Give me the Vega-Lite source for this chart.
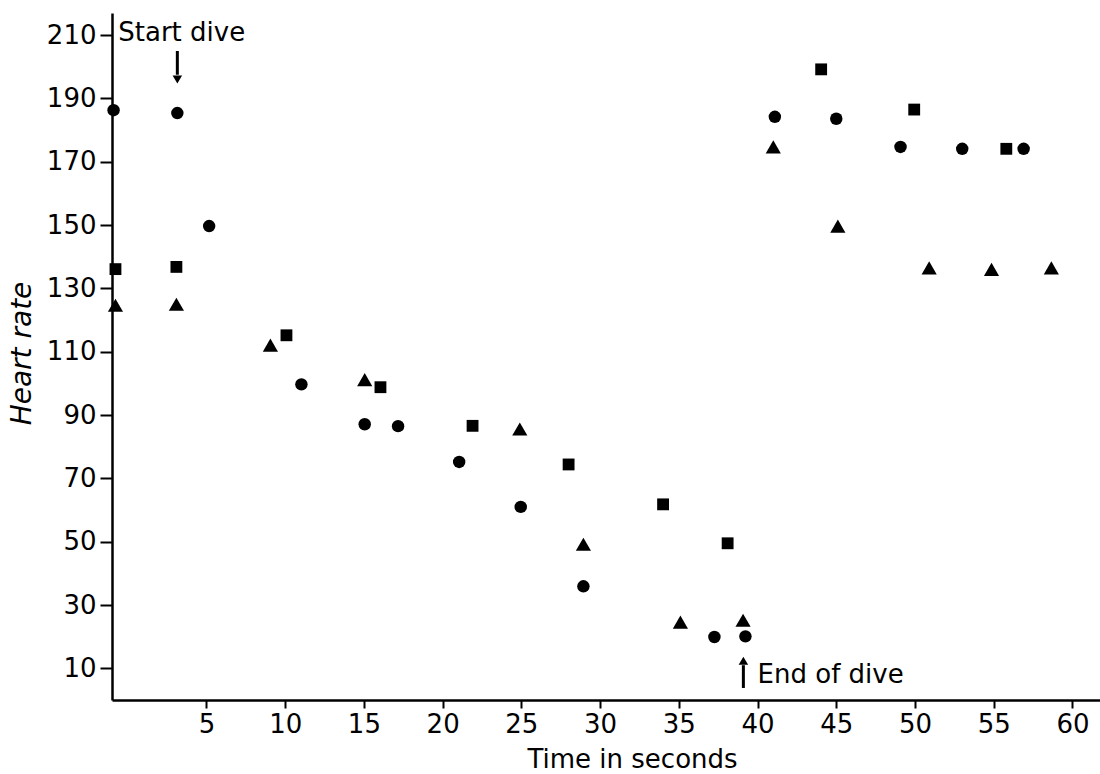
{
  "$schema": "https://vega.github.io/schema/vega-lite/v6.json",
  "autosize": "none",
  "width": 988,
  "height": 687,
  "padding": {"left": 112, "top": 13, "right": 0, "bottom": 74},
  "background": "white",
  "config": {
    "font": "DejaVu Sans",
    "view": {"stroke": null},
    "axis": {
      "grid": false,
      "domainColor": "black",
      "domainWidth": 2.5,
      "tickColor": "black",
      "tickWidth": 2,
      "labelColor": "black",
      "titleColor": "black",
      "labelFontSize": 26,
      "labelFont": "DejaVu Sans",
      "titleFont": "DejaVu Sans",
      "titleFontWeight": "normal"
    }
  },
  "datasets": {
    "pts": [
      {"t": -0.9, "hr": 186.3, "series": "circle"},
      {"t": 3.15, "hr": 185.4, "series": "circle"},
      {"t": 5.17, "hr": 149.7, "series": "circle"},
      {"t": 11.03, "hr": 99.7, "series": "circle"},
      {"t": 15.05, "hr": 87.1, "series": "circle"},
      {"t": 17.17, "hr": 86.5, "series": "circle"},
      {"t": 21.05, "hr": 75.2, "series": "circle"},
      {"t": 24.96, "hr": 61.0, "series": "circle"},
      {"t": 28.94, "hr": 35.9, "series": "circle"},
      {"t": 37.26, "hr": 19.9, "series": "circle"},
      {"t": 39.23, "hr": 20.1, "series": "circle"},
      {"t": 41.1, "hr": 184.2, "series": "circle"},
      {"t": 45.0, "hr": 183.6, "series": "circle"},
      {"t": 49.08, "hr": 174.7, "series": "circle"},
      {"t": 53.0, "hr": 174.1, "series": "circle"},
      {"t": 56.9, "hr": 174.1, "series": "circle"},
      {"t": -0.78, "hr": 136.1, "series": "square"},
      {"t": 3.09, "hr": 136.8, "series": "square"},
      {"t": 10.08, "hr": 115.2, "series": "square"},
      {"t": 16.05, "hr": 98.8, "series": "square"},
      {"t": 21.9, "hr": 86.6, "series": "square"},
      {"t": 28.0, "hr": 74.4, "series": "square"},
      {"t": 34.0, "hr": 61.8, "series": "square"},
      {"t": 38.1, "hr": 49.5, "series": "square"},
      {"t": 44.04, "hr": 199.2, "series": "square"},
      {"t": 49.95, "hr": 186.5, "series": "square"},
      {"t": 55.8, "hr": 174.1, "series": "square"},
      {"t": -0.78, "hr": 124.7, "series": "triangle"},
      {"t": 3.09, "hr": 125.0, "series": "triangle"},
      {"t": 9.06, "hr": 112.1, "series": "triangle"},
      {"t": 15.05, "hr": 101.2, "series": "triangle"},
      {"t": 24.9, "hr": 85.6, "series": "triangle"},
      {"t": 28.94, "hr": 49.2, "series": "triangle"},
      {"t": 35.1, "hr": 24.6, "series": "triangle"},
      {"t": 39.08, "hr": 25.2, "series": "triangle"},
      {"t": 41.0, "hr": 174.7, "series": "triangle"},
      {"t": 45.1, "hr": 149.7, "series": "triangle"},
      {"t": 50.9, "hr": 136.5, "series": "triangle"},
      {"t": 54.86, "hr": 136.0, "series": "triangle"},
      {"t": 58.66, "hr": 136.5, "series": "triangle"}
    ],
    "notes": [
      {"t": -0.6, "hr": 210.6, "label": "Start dive"},
      {"t": 40.0, "hr": 7.8, "label": "End of dive"}
    ],
    "arrows": [
      {"t": 3.15, "hr": 205.0, "hr2": 197.5, "headY": 196.0, "head": "triangle-down"},
      {"t": 39.1, "hr": 3.8, "hr2": 11.0, "headY": 12.4, "head": "triangle-up"}
    ]
  },
  "encoding": {
    "x": {
      "field": "t",
      "type": "quantitative",
      "scale": {"domain": [-1, 61.75], "nice": false, "zero": false},
      "axis": {
        "values": [5, 10, 15, 20, 25, 30, 35, 40, 45, 50, 55, 60],
        "tickSize": 8,
        "labelPadding": 3,
        "title": "Time in seconds",
        "titleFontSize": 26,
        "titleX": 520,
        "titleY": 67,
        "titleBaseline": "alphabetic",
        "titleAlign": "center"
      }
    },
    "y": {
      "field": "hr",
      "type": "quantitative",
      "scale": {"domain": [0, 217], "nice": false},
      "axis": {
        "values": [10, 30, 50, 70, 90, 110, 130, 150, 170, 190, 210],
        "tickSize": 12,
        "labelPadding": 4,
        "title": "Heart rate",
        "titleFontSize": 28,
        "titleFontStyle": "italic",
        "titleAngle": 270,
        "titleX": -90,
        "titleY": 340,
        "titleBaseline": "middle",
        "titleAlign": "center"
      }
    }
  },
  "layer": [
    {
      "data": {"name": "pts"},
      "mark": {"type": "point", "filled": true, "color": "black", "opacity": 1},
      "encoding": {
        "shape": {
          "field": "series",
          "type": "nominal",
          "scale": {"domain": ["circle", "square", "triangle"], "range": ["circle", "square", "triangle-up"]},
          "legend": null
        },
        "size": {
          "field": "series",
          "type": "nominal",
          "scale": {"type": "ordinal", "domain": ["circle", "square", "triangle"], "range": [155, 140, 230]},
          "legend": null
        }
      }
    },
    {
      "data": {"name": "notes"},
      "mark": {"type": "text", "align": "left", "baseline": "middle", "fontSize": 26, "color": "black"},
      "encoding": {"text": {"field": "label"}}
    },
    {
      "data": {"name": "arrows"},
      "mark": {"type": "rule", "color": "black", "strokeWidth": 3},
      "encoding": {"y2": {"field": "hr2"}}
    },
    {
      "data": {"name": "arrows"},
      "mark": {"type": "point", "filled": true, "color": "black", "opacity": 1, "size": 90},
      "encoding": {
        "y": {"field": "headY", "type": "quantitative"},
        "shape": {"field": "head", "type": "nominal", "scale": null}
      }
    }
  ]
}
